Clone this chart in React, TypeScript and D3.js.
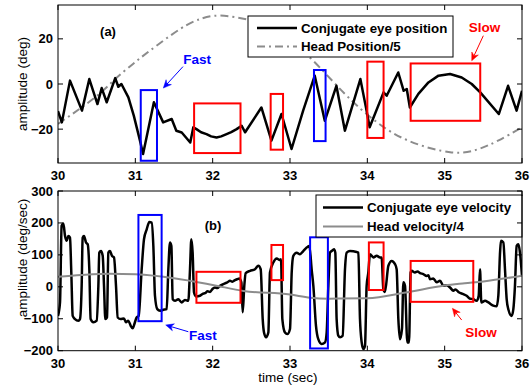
import React from 'react';
import * as d3 from 'd3';

const W = 531, H = 387;
const xTicks = [30, 31, 32, 33, 34, 35, 36];
const posTicks = [-20, 0, 20];
const velTicks = [-200, -100, 0, 100, 200, 300];

const eyePos: [number, number][] = [
  [30.0, -12], [30.05, -17], [30.155, 1.5], [30.31, -11.8], [30.405, 2.2], [30.51, -8.9], [30.565, -1.8],
  [30.63, -8.1], [30.74, 2.6], [30.78, -1.2], [30.82, 0], [30.91, -5.9], [30.98, -14], [31.06, -25.1],
  [31.1, -31], [31.24, -8.1], [31.36, -17], [31.47, -15.5], [31.53, -20.7], [31.6, -21.5], [31.71, -25.9],
  [31.75, -19.2], [31.79, -20], [31.85, -21.4], [31.92, -22.2], [31.98, -23.2], [32.05, -23.7], [32.11, -23.2],
  [32.18, -22.2], [32.24, -21.3], [32.31, -20], [32.375, -18.5], [32.42, -21.4], [32.63, -10.4], [32.76, -25.1],
  [32.89, -13.3], [33.02, -28.8], [33.17, -11.8], [33.32, 3.7], [33.45, -16.3], [33.6, -0.8], [33.71, -20.7],
  [33.91, 2.2], [33.99, -11.8], [34.03, -19.2], [34.21, -3.7], [34.25, -5.2], [34.4, 5.1], [34.47, -3],
  [34.51, -2.2], [34.55, -10.4], [34.66, -4.4], [34.79, 0.7], [34.92, 3.7], [35.07, 4.4], [35.22, 2.9],
  [35.35, 0], [35.46, -3.7], [35.7, -13.3], [35.82, -0.8], [35.93, -11.8], [36.0, -3]
];

const headPos: [number, number][] = [
  [30, -17.7], [30.48, -5.9], [30.74, 2.2], [30.97, 8.9], [31.19, 14.8], [31.58, 24.4], [31.84, 28.8],
  [32.1, 30.3], [32.5, 28.2], [32.85, 23.6], [33.1, 16.2], [33.3, 10.3], [33.71, -4.4], [34.1, -16.3],
  [34.53, -25.1], [35.09, -30.3], [35.44, -28.8], [35.69, -25.1], [36, -19.2]
];

const eyeVel: [number, number][] = [
  [30.0, -91], [30.026, -49], [30.047, 191], [30.069, 198], [30.091, 159], [30.112, 144], [30.134, 159],
  [30.155, 154], [30.172, 45], [30.19, -91], [30.22, -101], [30.263, -106], [30.284, -101], [30.306, 3],
  [30.319, 154], [30.336, 159], [30.362, 139], [30.384, 133], [30.405, 55], [30.422, -101], [30.457, -111],
  [30.5, -106], [30.522, 3], [30.534, 107], [30.556, 112], [30.578, 97], [30.595, 3], [30.612, -101],
  [30.634, -96], [30.651, 107], [30.672, 112], [30.698, 97], [30.724, 92], [30.75, 3], [30.772, -96],
  [30.81, -101], [30.853, -99], [30.879, -111], [30.909, -106], [30.94, -122], [30.966, -130], [30.991, -114],
  [31.017, -96], [31.043, -91], [31.082, 55], [31.112, 149], [31.147, 180], [31.181, 203], [31.211, 201],
  [31.233, 128], [31.254, -28], [31.284, -70], [31.319, -75], [31.362, -72], [31.405, -70], [31.427, 55],
  [31.448, 139], [31.466, 128], [31.483, -39], [31.513, -44], [31.556, -39], [31.599, -49], [31.642, -41],
  [31.685, -44], [31.707, 55], [31.724, 149], [31.741, 107], [31.759, -18], [31.784, -30], [31.836, -28],
  [31.87, -22], [31.901, -20], [31.935, -14], [31.966, -16], [32.0, -6], [32.03, -2], [32.06, -4], [32.095, 3],
  [32.13, 8], [32.159, 11], [32.19, 14], [32.224, 19], [32.255, 16], [32.289, 21], [32.32, 24], [32.345, 26],
  [32.371, 14], [32.388, -80], [32.409, 3], [32.427, 43], [32.483, 50], [32.547, 55], [32.591, 66],
  [32.621, 55], [32.647, -101], [32.664, -143], [32.69, -158], [32.72, -143], [32.741, 45], [32.784, 76],
  [32.828, 89], [32.862, 84], [32.884, 86], [32.901, -101], [32.935, -143], [32.966, -148], [33.0, -132],
  [33.022, 45], [33.043, 97], [33.086, 107], [33.129, 102], [33.172, 112], [33.216, 123], [33.25, 128],
  [33.28, 55], [33.302, 3], [33.336, -122], [33.366, -164], [33.409, -179], [33.453, -174], [33.474, -143],
  [33.496, 3], [33.517, 107], [33.539, 112], [33.569, 118], [33.586, 107], [33.603, -101], [33.625, -153],
  [33.647, -158], [33.681, -153], [33.711, 55], [33.733, 107], [33.776, 112], [33.862, 109], [33.884, 107],
  [33.905, -101], [33.927, -174], [33.948, -195], [33.97, -184], [33.991, 3], [34.013, 45], [34.034, 102],
  [34.078, 92], [34.121, 97], [34.164, 92], [34.185, 92], [34.207, -7], [34.228, -16], [34.272, 66],
  [34.315, 81], [34.358, 71], [34.379, 55], [34.401, -101], [34.422, -164], [34.448, -132], [34.466, 14],
  [34.487, 3], [34.517, -174], [34.539, -174], [34.56, 45], [34.573, 50], [34.616, 45], [34.65, 48],
  [34.681, 43], [34.724, 40], [34.767, 34], [34.79, 36], [34.81, 24], [34.853, 26], [34.897, 14], [34.94, 19],
  [34.983, 3], [35.026, 5], [35.069, -2], [35.112, -12], [35.14, -8], [35.177, -16], [35.241, -23],
  [35.284, -28], [35.319, -36], [35.371, -39], [35.414, -44], [35.44, -28], [35.457, 55], [35.474, -49],
  [35.522, -44], [35.565, -49], [35.629, -59], [35.672, -61], [35.694, -28], [35.716, 107], [35.728, 144],
  [35.759, 139], [35.78, 55], [35.802, -39], [35.823, -70], [35.866, -91], [35.888, -70], [35.909, 3],
  [35.931, 128], [35.953, 133], [35.974, 107], [36.0, 34]
];

const headVel: [number, number][] = [
  [30, 31.6], [30.3, 37], [30.67, 41], [31, 39], [31.5, 27], [32, 6], [32.4, -13], [33, -24], [33.26, -34],
  [33.5, -37], [34, -36], [34.5, -18], [35, 4], [35.26, 11], [35.5, 17], [36, 35]
];

type Box = { t0: number; t1: number; v0: number; v1: number; color: string };
const posBoxes: Box[] = [
  { t0: 31.07, t1: 31.28, v0: -34, v1: -2.7, color: '#0000ff' },
  { t0: 31.76, t1: 32.36, v0: -30.6, v1: -8.6, color: '#ff0000' },
  { t0: 32.75, t1: 32.91, v0: -29.1, v1: -4.4, color: '#ff0000' },
  { t0: 33.31, t1: 33.46, v0: -25.3, v1: 6.2, color: '#0000ff' },
  { t0: 34.0, t1: 34.21, v0: -23.9, v1: 9.9, color: '#ff0000' },
  { t0: 34.56, t1: 35.46, v0: -16.3, v1: 9.1, color: '#ff0000' }
];
const velBoxes: Box[] = [
  { t0: 31.04, t1: 31.34, v0: -107.6, v1: 225, color: '#0000ff' },
  { t0: 31.79, t1: 32.36, v0: -50, v1: 47, color: '#ff0000' },
  { t0: 32.76, t1: 32.91, v0: 21, v1: 131, color: '#ff0000' },
  { t0: 33.26, t1: 33.49, v0: -193, v1: 155, color: '#0000ff' },
  { t0: 34.02, t1: 34.21, v0: -10, v1: 139, color: '#ff0000' },
  { t0: 34.56, t1: 35.37, v0: -47, v1: 81, color: '#ff0000' }
];

type Note = { text: string; color: string; tx: number; tv: number; a0: [number, number]; a1: [number, number] };
const posNotes: Note[] = [
  { text: 'Fast', color: '#0000ff', tx: 31.8, tv: 11.1, a0: [31.616, 7.7], a1: [31.362, -1.8] },
  { text: 'Slow', color: '#ff0000', tx: 35.515, tv: 25.1, a0: [35.5, 21.4], a1: [35.35, 10.3] }
];
const velNotes: Note[] = [
  { text: 'Fast', color: '#0000ff', tx: 31.875, tv: -151, a0: [31.685, -140.6], a1: [31.393, -119.6] },
  { text: 'Slow', color: '#ff0000', tx: 35.47, tv: -141.5, a0: [35.22, -104], a1: [35.1, -67.3] }
];

const FONT = 'Liberation Sans, Arial, Helvetica, sans-serif';
const X0 = 58, X1 = 522;

const x = d3.scaleLinear().domain([30, 36]).range([X0, X1]);
const yPos = d3.scaleLinear().domain([-35, 35]).range([163, 5]);
const yVel = d3.scaleLinear().domain([-200, 300]).range([350.7, 191]);

const fmt = (v: number) => (v < 0 ? '\u2212' + Math.abs(v) : String(v));

function Arrow({ from, to, color }: { from: [number, number]; to: [number, number]; color: string }) {
  const [x0, y0] = from, [x1, y1] = to;
  const ang = Math.atan2(y1 - y0, x1 - x0);
  const L = 8, Wd = 3.6, N = 5.5;
  const c = Math.cos(ang), s = Math.sin(ang);
  const pt = (dx: number, dy: number): [number, number] => [x1 + dx * c - dy * s, y1 + dx * s + dy * c];
  const p = (dx: number, dy: number) => pt(dx, dy).join(',');
  const head = `M${p(0, 0)}L${p(-L, -Wd)}L${p(-N, 0)}L${p(-L, Wd)}Z`;
  const [nx, ny] = pt(-N, 0);
  return (
    <g>
      <line x1={x0} y1={y0} x2={nx} y2={ny} stroke={color} strokeWidth={1} />
      <path d={head} fill={color} stroke={color} strokeWidth={0.5} />
    </g>
  );
}

function Panel({ y, ticks, top, bottom, ylabel, ylabelY, children }: any) {
  const TL = 5;
  return (
    <g>
      {children}
      <rect x={X0} y={top} width={X1 - X0} height={bottom - top} fill="none" stroke="#000" strokeWidth={1} />
      {xTicks.map((t) => (
        <g key={'x' + t}>
          <line x1={x(t)} x2={x(t)} y1={bottom} y2={bottom - TL} stroke="#000" />
          <line x1={x(t)} x2={x(t)} y1={top} y2={top + TL} stroke="#000" />
          <text x={x(t)} y={bottom + 17} textAnchor="middle" fontFamily={FONT} fontWeight="bold" fontSize={13}>
            {t}
          </text>
        </g>
      ))}
      {ticks.map((v: number) => (
        <g key={'y' + v}>
          <line x1={X0} x2={X0 + TL} y1={y(v)} y2={y(v)} stroke="#000" />
          <line x1={X1} x2={X1 - TL} y1={y(v)} y2={y(v)} stroke="#000" />
          <text x={53} y={y(v) + 4.5} textAnchor="end" fontFamily={FONT} fontWeight="bold" fontSize={13}>
            {fmt(v)}
          </text>
        </g>
      ))}
      <text
        transform={`translate(27,${ylabelY}) rotate(-90)`}
        textAnchor="middle"
        fontFamily={FONT}
        fontSize={13.5}
      >
        {ylabel}
      </text>
    </g>
  );
}

export default function App() {
  const linePos = d3.line<[number, number]>().x((d) => x(d[0])).y((d) => yPos(d[1]));
  const lineHeadPos = d3
    .line<[number, number]>()
    .x((d) => x(d[0]))
    .y((d) => yPos(d[1]))
    .curve(d3.curveNatural);
  const lineVel = d3
    .line<[number, number]>()
    .x((d) => x(d[0]))
    .y((d) => yVel(d[1]))
    .curve(d3.curveMonotoneX);
  const lineHeadVel = d3
    .line<[number, number]>()
    .x((d) => x(d[0]))
    .y((d) => yVel(d[1]))
    .curve(d3.curveMonotoneX);

  const boxes = (bs: Box[], y: any, k: string) =>
    bs.map((b, i) => (
      <rect
        key={k + i}
        x={x(b.t0)}
        y={y(b.v1)}
        width={x(b.t1) - x(b.t0)}
        height={y(b.v0) - y(b.v1)}
        fill="none"
        stroke={b.color}
        strokeWidth={2}
      />
    ));
  const notes = (ns: Note[], y: any, k: string) =>
    ns.map((n, i) => (
      <g key={k + i}>
        <text
          x={x(n.tx)}
          y={y(n.tv) + 5}
          textAnchor="middle"
          fill={n.color}
          fontFamily={FONT}
          fontWeight="bold"
          fontSize={13.5}
        >
          {n.text}
        </text>
        <Arrow from={[x(n.a0[0]), y(n.a0[1])]} to={[x(n.a1[0]), y(n.a1[1])]} color={n.color} />
      </g>
    ));

  return (
    <svg width={W} height={H} style={{ position: 'absolute', left: 0, top: 0, background: '#fff' }}>
      <defs>
        <clipPath id="cpA">
          <rect x={X0} y={5} width={X1 - X0} height={158} />
        </clipPath>
        <clipPath id="cpB">
          <rect x={X0} y={191} width={X1 - X0} height={159.7} />
        </clipPath>
      </defs>
      <rect x={0} y={0} width={W} height={H} fill="#fff" />
      <Panel y={yPos} ticks={posTicks} top={5} bottom={163} ylabel="amplitude (deg)" ylabelY={84}>
        <g clipPath="url(#cpA)">
          <path d={lineHeadPos(headPos) || ''} fill="none" stroke="#8c8c8c" strokeWidth={2} strokeDasharray="8,4,2,4" />
          <path d={linePos(eyePos) || ''} fill="none" stroke="#000" strokeWidth={2.5} strokeLinejoin="round" />
        </g>
        {boxes(posBoxes, yPos, 'pb')}
        {notes(posNotes, yPos, 'pn')}
        <text x={108} y={36} textAnchor="middle" fontFamily={FONT} fontWeight="bold" fontSize={13}>
          (a)
        </text>
        <rect x={248} y={16} width={205} height={41} fill="#fff" stroke="#000" strokeWidth={1} />
        <line x1={257} x2={297} y1={28} y2={28} stroke="#000" strokeWidth={2.5} />
        <line x1={257} x2={297} y1={46.5} y2={46.5} stroke="#8c8c8c" strokeWidth={2} strokeDasharray="8,4,2,4" />
        <text x={301} y={32.5} fontFamily={FONT} fontWeight="bold" fontSize={13.3}>
          Conjugate eye position
        </text>
        <text x={301} y={51} fontFamily={FONT} fontWeight="bold" fontSize={13.3}>
          Head Position/5
        </text>
      </Panel>
      <Panel y={yVel} ticks={velTicks} top={191} bottom={350.7} ylabel="amplitude (deg/sec)" ylabelY={258}>
        <g clipPath="url(#cpB)">
          <path d={lineVel(eyeVel) || ''} fill="none" stroke="#000" strokeWidth={2.5} strokeLinejoin="round" />
          <path d={lineHeadVel(headVel) || ''} fill="none" stroke="#8c8c8c" strokeWidth={2} />
        </g>
        {boxes(velBoxes, yVel, 'vb')}
        {notes(velNotes, yVel, 'vn')}
        <text x={213} y={230} textAnchor="middle" fontFamily={FONT} fontWeight="bold" fontSize={13}>
          (b)
        </text>
        <rect x={316} y={195} width={206} height={42} fill="#fff" stroke="#000" strokeWidth={1} />
        <line x1={323} x2={363} y1={207.5} y2={207.5} stroke="#000" strokeWidth={2.5} />
        <line x1={323} x2={363} y1={226.5} y2={226.5} stroke="#8c8c8c" strokeWidth={2} />
        <text x={367} y={212} fontFamily={FONT} fontWeight="bold" fontSize={13.3}>
          Conjugate eye velocity
        </text>
        <text x={367} y={231} fontFamily={FONT} fontWeight="bold" fontSize={13.3}>
          Head velocity/4
        </text>
      </Panel>
      <text x={288} y={382} textAnchor="middle" fontFamily={FONT} fontSize={13.5}>
        time (sec)
      </text>
    </svg>
  );
}
